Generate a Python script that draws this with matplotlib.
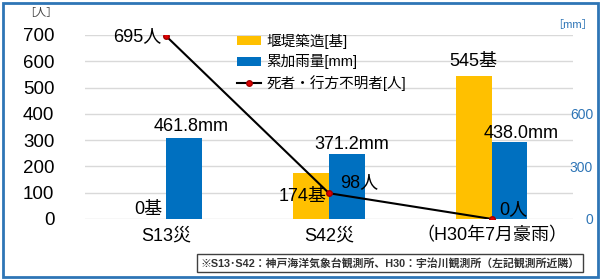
import numpy as np
import matplotlib
matplotlib.use("Agg")
import matplotlib.pyplot as plt
from matplotlib.patches import Rectangle

plt.rcParams['font.family'] = ['Liberation Sans', 'Noto Sans CJK JP', 'DejaVu Sans']

# data
categories = ["S13災", "S42災", "（H30年7月豪雨）"]
dams = [0, 174, 545]           # 堰堤築造 [基]
rain = [461.8, 371.2, 438.0]   # 累加雨量 [mm]
deaths = [695, 98, 0]          # 死者・行方不明者 [人]
left_ticks = [0, 100, 200, 300, 400, 500, 600, 700]
right_ticks = [0, 300, 600]

yellow = "#FFC000"
blue = "#0070C0"

fig = plt.figure(figsize=(6.05, 2.8), dpi=100)
ax = fig.add_axes([0.1405, 0.218, 0.8065, 0.657])
ax2 = ax.twinx()

x = np.arange(len(categories))
w = 0.22

h1 = ax.bar(x - w / 2, dams, w, color=yellow, label="堰堤築造[基]", zorder=2)
h2 = ax2.bar(x + w / 2, rain, w, color=blue, label="累加雨量[mm]", zorder=2)
h3, = ax2.plot(x, deaths, transform=ax.transData, color="black", lw=1.5, marker="o",
               ms=4, mfc="#E00000", mec="#A00000", label="死者・行方不明者[人]", zorder=5)

ax.set_xlim(-0.5, 2.5)
ax.set_ylim(0, 700)
ax2.set_ylim(0, 1050)
ax.set_yticks(left_ticks)
ax2.set_yticks(right_ticks)
ax.grid(axis="y", color="#D9D9D9", lw=1, zorder=0)
ax.set_axisbelow(True)
for a in (ax, ax2):
    for s in a.spines.values():
        s.set_visible(False)
ax.tick_params(axis="y", length=0, labelsize=13.5, pad=22)
ax2.tick_params(axis="y", length=0, labelsize=10, labelcolor="#2E75B6", pad=14.5)
for t in ax2.get_yticklabels():
    t.set_ha("right")
ax.set_xticks(x)
ax.set_xticklabels(categories, fontsize=13)
ax.tick_params(axis="x", length=0, pad=6)

# data labels (drawn on the top axes so the bars don't cover them)
fs = 13
def lab(xv, yv, s, ha, va):
    ax2.text(xv, yv, s, ha=ha, va=va, fontsize=fs, transform=ax.transData, zorder=10)

lab(x[0] - 0.03, deaths[0], f"{deaths[0]}人", "right", "center")
lab(x[1] + 0.07, deaths[1] + 42, f"{deaths[1]}人", "left", "center")
lab(x[2] + 0.05, deaths[2] + 35, f"{deaths[2]}人", "left", "center")
lab(x[0] - w / 2, dams[0] + 4, f"{dams[0]}基", "center", "bottom")
lab(x[1] - 0.16, 84, f"{dams[1]}基", "center", "center")
lab(x[2] - w / 2, dams[2] + 20, f"{dams[2]}基", "center", "bottom")
for i in range(3):
    off = [0.04, 0.03, 0.07][i]
    yoff = [18, 5, 2][i]
    lab(x[i] + w / 2 + off, (rain[i] + yoff) * 700 / 1050, f"{rain[i]:.1f}mm", "center", "bottom")

ax2.legend(handles=[h1, h2, h3], loc="upper left", bbox_to_anchor=(0.3, 1.04), frameon=False,
           fontsize=10.5, handlelength=1.6, handleheight=0.6, labelspacing=0.4,
           handletextpad=0.4, borderaxespad=0)

fig.text(0.04, 0.955, "［人］", fontsize=8, color="#404040", ha="left", va="center")
fig.text(0.98, 0.91, "［mm］", fontsize=8, color="#2E75B6", ha="right", va="center")

# footnote box
fig.text(0.645, 0.06, "※S13･S42：神戸海洋気象台観測所、H30：宇治川観測所（左記観測所近隣）",
         fontsize=7.8, fontweight="bold", color="#333333", ha="center", va="center",
         bbox=dict(boxstyle="square,pad=0.3", fc="white", ec="#404040", lw=1))

# outer frame
fig.patches.append(Rectangle((0.005, 0.012), 0.984, 0.978, transform=fig.transFigure,
                             fill=False, ec="#2E75B6", lw=2))

fig.savefig("out.png", dpi=100)
